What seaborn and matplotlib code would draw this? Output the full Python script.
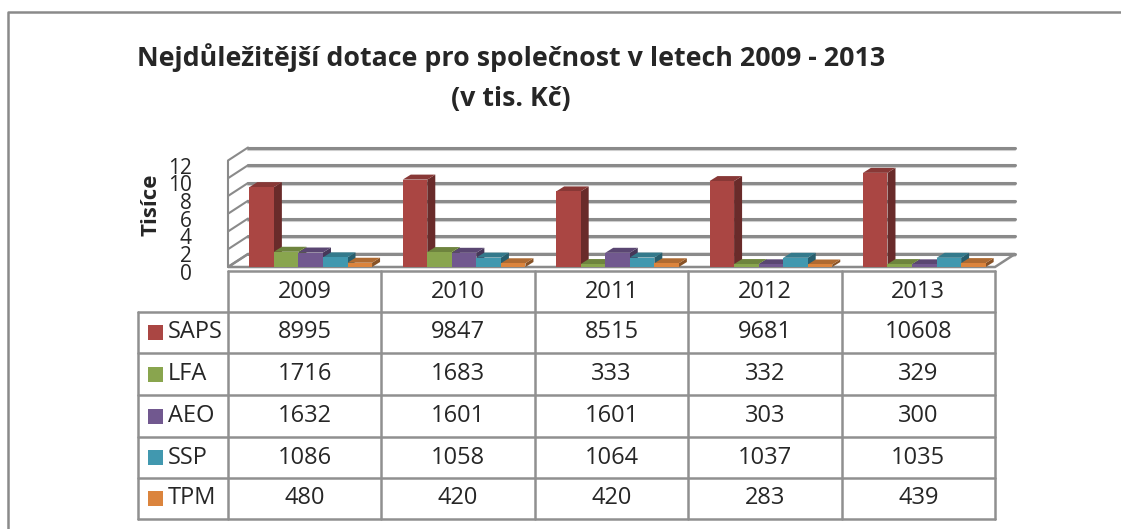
import numpy as np
import pandas as pd
import seaborn as sns
import matplotlib
matplotlib.use('Agg')
import matplotlib.pyplot as plt
from matplotlib.patches import Polygon, Rectangle
from matplotlib.lines import Line2D
from matplotlib.transforms import ScaledTranslation

# data (values in tis. Kc)
years = ['2009', '2010', '2011', '2012', '2013']
series = ['SAPS', 'LFA', 'AEO', 'SSP', 'TPM']
saps = [8995, 9847, 8515, 9681, 10608]
lfa = [1716, 1683, 333, 332, 329]
aeo = [1632, 1601, 1601, 303, 300]
ssp = [1086, 1058, 1064, 1037, 1035]
tpm = [480, 420, 420, 283, 439]
y_ticks = [0, 2, 4, 6, 8, 10, 12]

colors = ['#AA4643', '#89A54E', '#71588F', '#4198AF', '#DB843D']
grid_col = '#8a8a8a'

rows = []
for name, vals in zip(series, [saps, lfa, aeo, ssp, tpm]):
    for yr, v in zip(years, vals):
        rows.append({'rok': yr, 'dotace': name, 'hodnota': v, 'tis': v / 1000})
df = pd.DataFrame(rows)

sns.set_style('white')
plt.rcParams['font.family'] = ['Open Sans', 'DejaVu Sans']

W, H = 1121, 529
fig = plt.figure(figsize=(W / 100, H / 100), dpi=100)

def fx(px):
    return px / W

def fy(py):
    return 1 - py / H

# front plane of the 3d plot
left_px, right_px = 228, 995
bot_px, top_px = 267, 160.5
ax = fig.add_axes([fx(left_px), fy(bot_px), fx(right_px - left_px), (bot_px - top_px) / H])
colw = (right_px - left_px) / 5
unit_y = (bot_px - top_px) / 12

sns.barplot(data=df, x='rok', y='tis', hue='dotace', palette=colors, saturation=1,
            ax=ax, legend=False, edgecolor='none', errorbar=None)
bars = sorted([p for p in ax.patches if isinstance(p, Rectangle)], key=lambda p: p.get_x())

ax.set_xlim(-0.5, 4.5)
ax.set_ylim(0, 12)
for s in ax.spines.values():
    s.set_visible(False)
ax.set_xticks([])
ax.set_xlabel('')
ax.set_ylabel('')
ax.set_facecolor('none')
ax.set_yticks(y_ticks)
ax.set_yticklabels([str(t) for t in y_ticks], fontsize=15)
ax.tick_params(axis='y', length=0, pad=26)
off = ScaledTranslation(0, -5 / 100, fig.dpi_scale_trans)
for lab in ax.get_yticklabels():
    lab.set_transform(lab.get_transform() + off)

# back wall offset (data units)
bdx = 20 / colw
bdy = 13 / unit_y

# back wall gridlines
for t in y_ticks:
    ax.add_line(Line2D([-0.5 + bdx, 4.5 + bdx], [t + bdy - 2 / unit_y] * 2, color='#d0d0d0', lw=1.5,
                       zorder=0.8, clip_on=False))
    ax.add_line(Line2D([-0.5 + bdx, 4.5 + bdx], [t + bdy] * 2, color=grid_col, lw=2.2,
                       zorder=1, clip_on=False))
    # side wall
    ax.add_line(Line2D([-0.5, -0.5 + bdx], [t, t + bdy], color=grid_col, lw=1.5,
                       zorder=1, clip_on=False))
ax.add_line(Line2D([-0.5, -0.5], [0, 12], color=grid_col, lw=1.5, zorder=1, clip_on=False))

# floor
floor = Polygon([(-0.5, 0), (4.5, 0), (4.5 + bdx, bdy), (-0.5 + bdx, bdy)], closed=True,
                facecolor='white', edgecolor=grid_col, lw=1.8, zorder=0.9, clip_on=False)
ax.add_patch(floor)

# 3d look for bars
shift = 6 / colw
ddx = 8 / colw
ddy = 5 / unit_y
for k, p in enumerate(bars):
    if p.get_height() <= 0:
        continue
    p.set_x(p.get_x() + shift)
    x0 = p.get_x()
    x1 = x0 + p.get_width()
    h = p.get_height()
    rgb = np.array(p.get_facecolor()[:3])
    z = 3 + 0.01 * k
    p.set_zorder(z + 0.002)
    side = Polygon([(x1, 0), (x1 + ddx, ddy), (x1 + ddx, h + ddy), (x1, h)], closed=True,
                   facecolor=rgb * 0.62, edgecolor='none', zorder=z, clip_on=False)
    top = Polygon([(x0, h), (x1, h), (x1 + ddx, h + ddy), (x0 + ddx, h + ddy)], closed=True,
                  facecolor=rgb * 0.8, edgecolor='none', zorder=z + 0.001, clip_on=False)
    ax.add_patch(side)
    ax.add_patch(top)

# axis title and chart title
fig.text(fx(151), fy(205), 'Tisíce', rotation=90, ha='center', va='center',
         fontsize=16, fontweight='bold')
fig.text(fx(511), fy(58), 'Nejdůležitější dotace pro společnost v letech 2009 - 2013',
         ha='center', va='center', fontsize=19.3, fontweight='bold')
fig.text(fx(511), fy(99), '(v tis. Kč)', ha='center', va='center', fontsize=19.3, fontweight='bold')

# data table
tcol = '#909090'
row_y = [271, 312, 353, 395, 437, 478, 519]
lab_left = 138
tsize = 17

def hline(x0, x1, y):
    fig.add_artist(Line2D([fx(x0), fx(x1)], [fy(y), fy(y)], color=tcol, lw=1.8))

def vline(x, y0, y1):
    fig.add_artist(Line2D([fx(x), fx(x)], [fy(y0), fy(y1)], color=tcol, lw=1.8))

hline(left_px, right_px, row_y[0])
for yy in row_y[1:]:
    hline(lab_left, right_px, yy)
for i in range(6):
    vline(left_px + i * colw, row_y[0], row_y[-1])
vline(lab_left, row_y[1], row_y[-1])

for i, yr in enumerate(years):
    fig.text(fx(left_px + (i + 0.5) * colw), fy((row_y[0] + row_y[1]) / 2), yr,
             ha='center', va='center', fontsize=tsize)

for j, name in enumerate(series):
    cy = (row_y[j + 1] + row_y[j + 2]) / 2
    fig.add_artist(Rectangle((fx(148), fy(cy + 7.5)), fx(15), 15 / H, transform=fig.transFigure,
                             facecolor=colors[j], edgecolor='none'))
    fig.text(fx(168), fy(cy), name, ha='left', va='center', fontsize=tsize)
    vals = df[df['dotace'] == name]['hodnota'].tolist()
    for i, v in enumerate(vals):
        fig.text(fx(left_px + (i + 0.5) * colw), fy(cy), str(v), ha='center', va='center',
                 fontsize=tsize)

# outer chart border
fig.add_artist(Line2D([fx(8), fx(8), 1], [0, fy(12), fy(12)], color='#8a8a8a', lw=1.8))

fig.savefig('out.png', dpi=100, facecolor='white')
